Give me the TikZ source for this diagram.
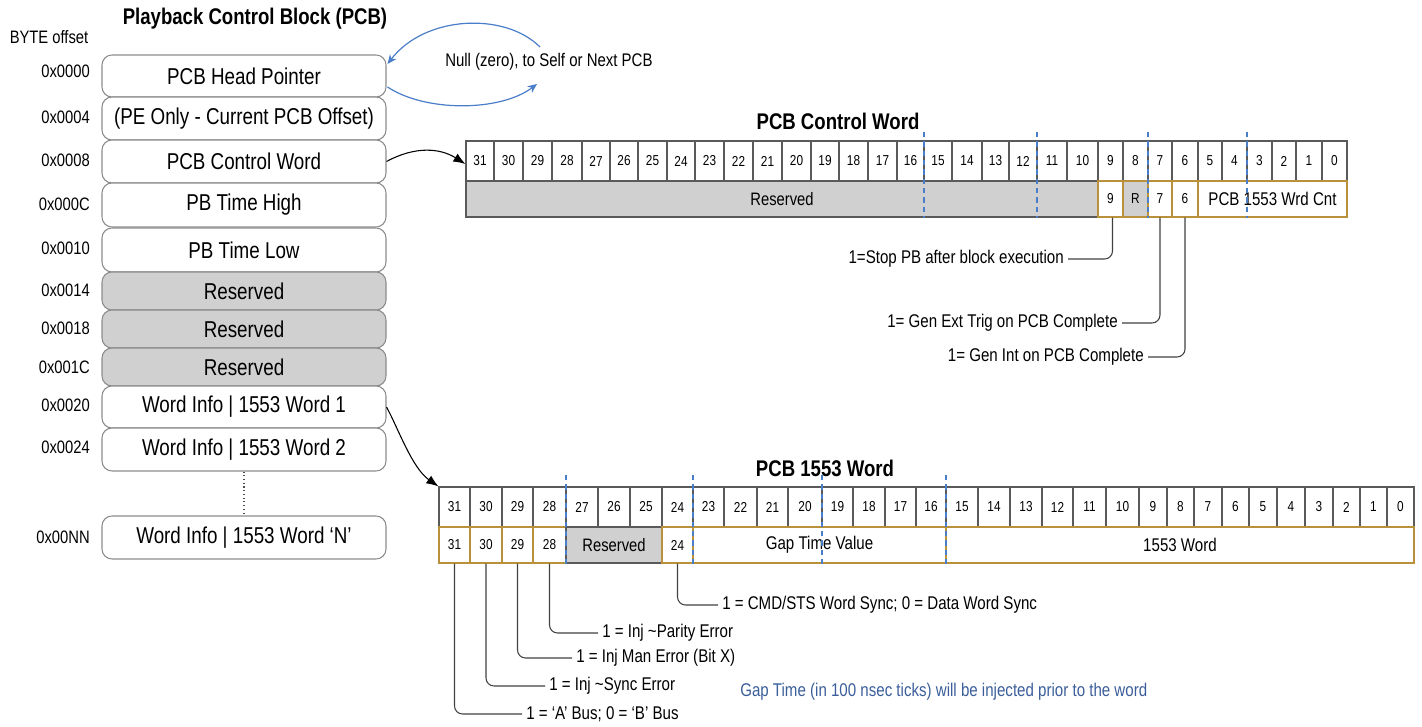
\documentclass[tikz,border=0pt]{standalone}
\usepackage{fontspec}
\setmainfont{Liberation Sans}[FakeStretch=0.82]
\usetikzlibrary{calc,arrows.meta}
\definecolor{boxgray}{HTML}{8C8C8C}
\definecolor{resfill}{HTML}{D0D0D0}
\definecolor{gold}{HTML}{B8913A}
\definecolor{vblue}{HTML}{4A7EC8}
\definecolor{txtblue}{HTML}{3B5E9A}
\definecolor{celldraw}{HTML}{5A5A5A}
\begin{document}
\begin{tikzpicture}[x=0.75pt,y=-0.75pt,
 pcbbox/.style={draw=boxgray, line width=0.8pt, rounded corners=7.5pt, fill=white, minimum width=213pt, inner sep=0pt, font=\fontsize{17.2}{19}\selectfont},
 pcbres/.style={pcbbox, fill=resfill},
 offlbl/.style={anchor=east, inner sep=0pt, font=\fontsize{13.5}{15}\selectfont},
 cell/.style={draw=celldraw, line width=0.9pt, fill=white, inner sep=0pt, minimum height=30pt, font=\fontsize{10.8}{12}\selectfont},
 gbox/.style={draw=gold, line width=1pt, fill=white, inner sep=0pt, minimum height=27pt, font=\fontsize{10.8}{12}\selectfont},
 gboxres/.style={gbox, fill=resfill},
 resbox/.style={draw=celldraw, line width=1pt, fill=resfill, inner sep=0pt, minimum height=27pt, font=\fontsize{13.5}{15}\selectfont},
 bigtxt/.style={font=\fontsize{13.7}{15}\selectfont},
 annot/.style={inner sep=3pt, font=\fontsize{13.8}{15}\selectfont},
 ttl/.style={inner sep=0pt, font=\bfseries\fontsize{17}{19}\selectfont},
 bluearr/.style={draw=vblue, line width=0.9pt, -{Stealth[length=7pt,width=6pt]}},
 blackarr/.style={draw=black, line width=0.8pt, -{Latex[length=9pt,width=7pt]}},
 lead/.style={draw=black!75, line width=0.8pt, rounded corners=6pt},
 bdash/.style={draw=vblue, line width=0.8pt, dash pattern=on 4pt off 3pt}
]
\useasboundingbox (0,0) rectangle (1422,727);

% ---------- left column ----------
\node[ttl, font=\bfseries\fontsize{17}{19}\selectfont] (ttlpcb) at (255,19) {Playback Control Block (PCB)};
\node[inner sep=0pt, font=\fontsize{13.5}{15}\selectfont] (byteoff) at (49,37) {BYTE offset};

\node[pcbbox, minimum height=31.5pt] (head) at (244,76) {PCB Head Pointer};
\node[pcbbox, minimum height=32.25pt] (pe) at (244,118.5) {(PE Only - Current PCB Offset)};
\node[pcbbox, minimum height=32.25pt] (pcw) at (244,161.5) {PCB Control Word};
\node[pcbbox, minimum height=33pt] (th) at (244,205) {PB Time High};
\node[pcbbox, minimum height=33pt] (tl) at (244,250) {PB Time Low};
\node[pcbres, minimum height=28.5pt] (r1) at (244,291) {Reserved};
\node[pcbres, minimum height=28.5pt] (r2) at (244,329) {Reserved};
\node[pcbres, minimum height=28.5pt] (r3) at (244,367) {Reserved};
\node[pcbbox, minimum height=31.5pt] (w1) at (244,407) {Word Info | 1553 Word 1};
\node[pcbbox, minimum height=32.25pt] (w2) at (244,449.5) {Word Info | 1553 Word 2};
\node[pcbbox, minimum height=32.25pt] (wn) at (244,537.5) {Word Info | 1553 Word ‘N’};
\draw[black!70, line width=0.8pt, dotted] (w2.south) -- (wn.north);

\node[offlbl] (o0) at (90,71) {0x0000};
\node[offlbl] (o4) at (90,117) {0x0004};
\node[offlbl] (o8) at (90,160) {0x0008};
\node[offlbl] (oC) at (90,204) {0x000C};
\node[offlbl] (o10) at (90,248) {0x0010};
\node[offlbl] (o14) at (90,290) {0x0014};
\node[offlbl] (o18) at (90,328) {0x0018};
\node[offlbl] (o1C) at (90,367) {0x001C};
\node[offlbl] (o20) at (90,405) {0x0020};
\node[offlbl] (o24) at (90,447) {0x0024};
\node[offlbl] (oNN) at (90,537) {0x00NN};

% null pointer arrows
\node[anchor=west, inner sep=0pt, bigtxt] (null) at (445,62) {Null (zero), to Self or Next PCB};
\coordinate (nA) at (540,47);
\coordinate (nB) at (537,84);
\draw[bluearr] (nA) .. controls (505,12) and (425,15) .. ($(head.east)+(1,-12)$);
\draw[bluearr] ($(head.east)+(1,11)$) .. controls (425,112) and (500,112) .. (nB);

% ---------- PCB Control Word ----------
\node[ttl] (ttlcw) at (838,121) {PCB Control Word};
\foreach \a/\b/\t in {466/494/31,494/523/30,523/552/29,552/582/28,582/610/27,610/638/26,638/667/25,667/695/24,695/724/23,724/753/22,753/782/21,782/811/20,811/839/19,839/868/18,868/897/17,897/924/16,924/952/15,952/982/14,982/1009/13,1009/1037/12,1037/1067/11,1067/1098/10,1098/1123/9,1123/1148/8,1148/1172/7,1172/1198/6,1198/1222/5,1222/1247/4,1247/1272/3,1272/1296/2,1296/1322/1,1322/1347/0}{
  \pgfmathsetmacro\w{(\b-\a)*0.75}
  \pgfmathsetmacro\c{(\a+\b)/2}
  \node[cell, minimum width=\w pt] (cw\t) at (\c,161) {\t};
}
\node[resbox, minimum width=474pt] (cwres) at (782,199) {Reserved};
\node[gbox, minimum width=18.75pt] (cb9) at (1110.5,199) {9};
\node[gboxres, minimum width=18.75pt] (cbR) at (1135.5,199) {R};
\node[gbox, minimum width=18pt] (cb7) at (1160,199) {7};
\node[gbox, minimum width=19.5pt] (cb6) at (1185,199) {6};
\node[gbox, minimum width=111.75pt, font=\fontsize{13.8}{15}\selectfont] (cbcnt) at (1272.5,199) {PCB 1553 Wrd Cnt};
\foreach \x in {924,1037,1148,1247}{
  \draw[bdash] (\x,132) -- (\x,218);
}
\draw[blackarr] (pcw.east) .. controls (415,146) and (440,148) .. ($(cw31.west)+(0,3)$);

\node[annot, anchor=east] (stop) at (1068,259) {1=Stop PB after block execution};
\node[annot, anchor=east] (ext) at (1122,323) {1= Gen Ext Trig on PCB Complete};
\node[annot, anchor=east] (int) at (1148,357) {1= Gen Int on PCB Complete};
\draw[lead] ($(cb9.south)+(2,0)$) |- (stop.east);
\draw[lead] (cb7.south) |- (ext.east);
\draw[lead] (cb6.south) |- (int.east);

% ---------- PCB 1553 Word ----------
\node[ttl] (ttlw) at (825,468) {PCB 1553 Word};
\foreach \a/\b/\t in {439/470/31,470/502/30,502/533/29,533/566/28,566/598/27,598/630/26,630/662/25,662/693/24,693/724/23,724/757/22,757/788/21,788/822/20,822/853/19,853/885/18,885/916/17,916/946/16,946/978/15,978/1010/14,1010/1042/13,1042/1073/12,1073/1106/11,1106/1139/10,1139/1167/9,1167/1194/8,1194/1222/7,1222/1249/6,1249/1277/5,1277/1305/4,1305/1333/3,1333/1360/2,1360/1387/1,1387/1414/0}{
  \pgfmathsetmacro\w{(\b-\a)*0.75}
  \pgfmathsetmacro\c{(\a+\b)/2}
  \node[cell, minimum width=\w pt] (wd\t) at (\c,507) {\t};
}
\node[gbox, minimum width=23.25pt] (wb31) at (454.5,545) {31};
\node[gbox, minimum width=24pt] (wb30) at (486,545) {30};
\node[gbox, minimum width=23.25pt] (wb29) at (517.5,545) {29};
\node[gbox, minimum width=24.75pt] (wb28) at (549.5,545) {28};
\node[resbox, minimum width=72pt] (wres) at (614,545) {Reserved};
\node[gbox, minimum width=23.25pt] (wb24) at (677.5,545) {24};
\node[gbox, minimum width=189.75pt, font=\fontsize{13.8}{15}\selectfont] (wgap) at (819.5,545) {Gap Time Value};
\node[gbox, minimum width=351pt, font=\fontsize{13.8}{15}\selectfont] (wword) at (1180,545) {1553 Word};
\foreach \x in {566,693,822,946}{
  \draw[bdash] (\x,475) -- (\x,564);
}
\draw[blackarr] (w1.east) .. controls (398,428) and (412,468) .. (wd31.north west);

\node[annot, anchor=west] (cmd) at (718,605) {1 = CMD/STS Word Sync; 0 = Data Word Sync};
\node[annot, anchor=west] (par) at (598,633) {1 = Inj \textasciitilde Parity Error};
\node[annot, anchor=west] (man) at (572,658) {1 = Inj Man Error (Bit X)};
\node[annot, anchor=west] (syn) at (545,686) {1 = Inj \textasciitilde Sync Error};
\node[annot, anchor=west] (bus) at (522,714) {1 = ‘A’ Bus; 0 = ‘B’ Bus};
\draw[lead] (wb24.south) |- (cmd.west);
\draw[lead] (wb28.south) |- (par.west);
\draw[lead] (wb29.south) |- (man.west);
\draw[lead] (wb30.south) |- (syn.west);
\draw[lead] (wb31.south) |- (bus.west);

\node[anchor=west, inner sep=0pt, text=txtblue, font=\fontsize{13.8}{15}\selectfont] (gapnote) at (740,692) {Gap Time (in 100 nsec ticks) will be injected prior to the word};
\end{tikzpicture}
\end{document}
